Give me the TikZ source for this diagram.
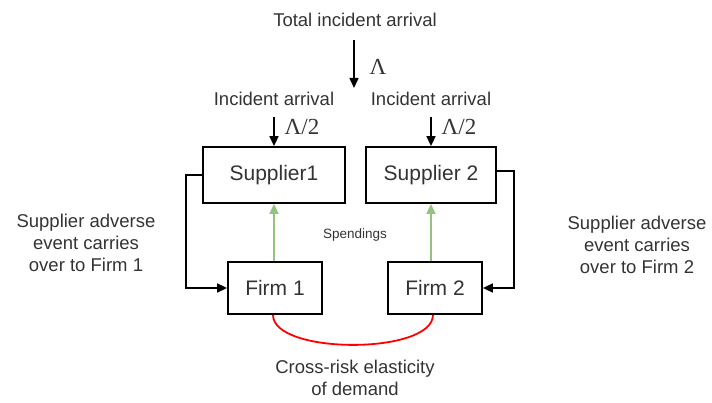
\documentclass[tikz,border=0pt]{standalone}
\usepackage{fontspec}
\setmainfont{Liberation Sans}
\newfontfamily\serifgrec{Liberation Serif}
\usetikzlibrary{arrows.meta}

\definecolor{vertclair}{HTML}{93C47D}

\begin{document}
\begin{tikzpicture}[x=1pt, y=-1pt,
    boite/.style={draw, line width=1.8pt, text=black!80, inner sep=0pt,
                  font=\fontsize{21}{25}\selectfont},
    texte/.style={text=black!80, align=center, font=\fontsize{18.5}{22}\selectfont},
    lambda/.style={text=black!80, inner sep=0pt, font=\serifgrec\fontsize{23}{27}\selectfont},
    fleche/.style={line width=1.6pt, -{Triangle[length=10pt, width=9pt]}}]

    \useasboundingbox (0,0) rectangle (712,403);

    % Hauteurs des deux rangées de boîtes
    \def\ysup{175}  % Rangée des fournisseurs
    \def\yfirm{288} % Rangée des firmes

    % ==============================================
    % 1. ARRIVÉE TOTALE
    % ==============================================
    \node[texte] (total) at (355,20) {Total incident arrival};
    \coordinate (tot-a) at (354,40);
    \coordinate (tot-b) at (354,88);
    \draw[fleche] (tot-a) -- (tot-b);
    \node[lambda] (lam) at (378,67) {Λ};

    % ==============================================
    % 2. FOURNISSEURS ET FIRMES
    % ==============================================
    \foreach \n/\txt/\xs/\ws/\xf in {1/Supplier1/274/142/275, 2/Supplier 2/431/130/435} {

        \node[boite, minimum width=\ws pt, minimum height=56pt] (s\n) at (\xs,\ysup) {\txt};
        \node[boite, minimum width=94pt, minimum height=52pt] (f\n) at (\xf,\yfirm) {Firm \n};

        % Arrivée d'incidents sur chaque fournisseur
        \node[texte] (inc\n) at (\xs,99) {Incident arrival};
        \coordinate (in\n) at (\xs,117);
        \draw[fleche] (in\n) -- (s\n.north);
        \node[lambda] (demi\n) at (\xs+28,127) {Λ/2};

        % Dépenses de la firme vers son fournisseur
        \draw[fleche, vertclair] (f\n.north -| s\n.south) -- (s\n.south);
    }

    \node[text=black!80, font=\fontsize{13.5}{16}\selectfont] (dep) at (355,235) {Spendings};

    % ==============================================
    % 3. REPORT DES INCIDENTS SUR LES FIRMES
    % ==============================================
    \draw[fleche] (s1.west) -- ++(-16,0) |- (f1.west);
    \draw[fleche] ([yshift=4pt]s2.east) -- ++(17,0) |- (f2.east);

    \node[texte] (rep1) at (86,243) {Supplier adverse\\event carries\\over to Firm 1};
    \node[texte] (rep2) at (637,245) {Supplier adverse\\event carries\\over to Firm 2};

    % Élasticité croisée entre les deux firmes
    \draw[red, line width=1.8pt] ([xshift=-2pt]f1.south) .. controls +(0,40) and +(0,40) .. ([xshift=-2pt]f2.south);
    \node[texte] (elast) at (355,378) {Cross-risk elasticity\\of demand};

\end{tikzpicture}
\end{document}
